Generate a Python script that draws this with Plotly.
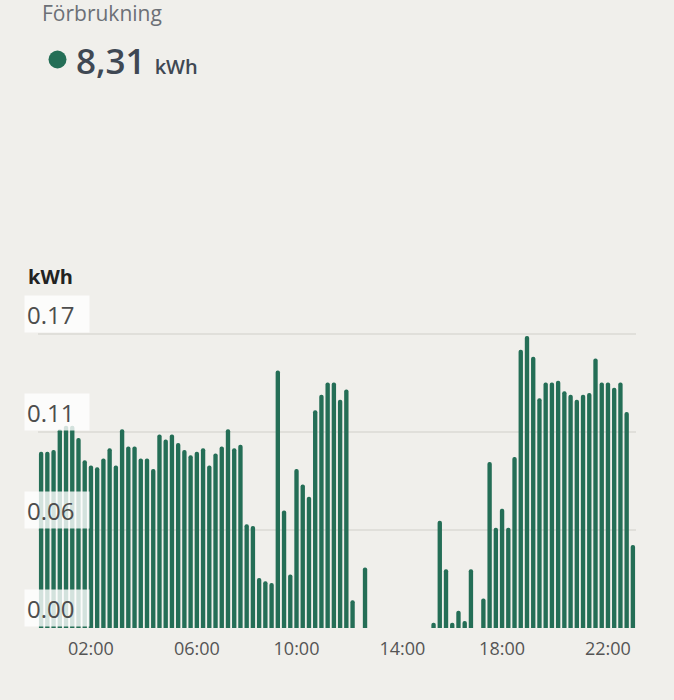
import numpy as np
import plotly.graph_objects as go

# förbrukning per kvart, kWh (00:00 - 23:45)
kwh = [
    0.102, 0.102, 0.103, 0.115, 0.117, 0.117, 0.110, 0.097,   # 00:00
    0.094, 0.093, 0.098, 0.104, 0.094, 0.115, 0.105, 0.105,   # 02:00
    0.098, 0.098, 0.092, 0.112, 0.109, 0.112, 0.107, 0.103,   # 04:00
    0.100, 0.102, 0.104, 0.094, 0.101, 0.105, 0.115, 0.104,   # 06:00
    0.106, 0.060, 0.059, 0.029, 0.027, 0.026, 0.149, 0.068,   # 08:00
    0.031, 0.092, 0.083, 0.076, 0.126, 0.135, 0.142, 0.142,   # 10:00
    0.132, 0.138, 0.016, 0.000, 0.035, 0.000, 0.000, 0.000,   # 12:00
    0.000, 0.000, 0.000, 0.000, 0.000, 0.000, 0.000, 0.003,   # 14:00
    0.062, 0.034, 0.003, 0.010, 0.004, 0.034, 0.000, 0.017,   # 16:00
    0.096, 0.058, 0.069, 0.058, 0.099, 0.161, 0.169, 0.157,   # 18:00
    0.133, 0.142, 0.142, 0.143, 0.137, 0.135, 0.132, 0.135,   # 20:00
    0.136, 0.156, 0.142, 0.142, 0.139, 0.142, 0.125, 0.048,   # 22:00
]
total = "8,31"
unit = "kWh"
title = "Förbrukning"

# x-etiketter (placerade som i bilden)
tick_pos = [2.0, 6.25, 10.25, 14.5, 18.5, 22.75]
tick_text = ["02:00", "06:00", "10:00", "14:00", "18:00", "22:00"]
y_ticks = [0, 0.17 / 3, 0.34 / 3, 0.17]

hours = np.arange(len(kwh)) * 0.25

GREEN = "#246e56"
BG = "#f0efeb"
W, H = 674, 700
L, R, T, B = 38, 38, 329, 72
pw, ph = W - L - R, H - T - B


def px(x):
    return (x - L) / pw


def py(y):
    return (H - B - y) / ph


fig = go.Figure(go.Bar(
    x=hours, y=kwh,
    marker=dict(color=GREEN, cornerradius="50%", line_width=0),
    hoverinfo="skip",
))

annots = []
for v in y_ticks:
    annots.append(dict(
        x=px(24), xref="paper", xanchor="left",
        y=v, yref="y", yanchor="bottom", yshift=1,
        text=f"{v:.2f}", showarrow=False, align="left",
        width=60, height=32, borderpad=2,
        bgcolor="rgba(255,255,255,0.8)",
        font=dict(size=24, color="#4d4d4d"),
    ))

annots += [
    dict(x=px(40), y=py(13), xref="paper", yref="paper", xanchor="left", yanchor="middle",
         text=title, showarrow=False, font=dict(size=21, color="#6c7076")),
    dict(x=px(74), y=py(60), xref="paper", yref="paper", xanchor="left", yanchor="middle",
         text=f"{total} <span style='font-size:20px'>{unit}</span>", showarrow=False,
         font=dict(size=35, color="#3f4853", weight=600)),
    dict(x=px(26), y=py(276), xref="paper", yref="paper", xanchor="left", yanchor="middle",
         text="<b>kWh</b>", showarrow=False, font=dict(size=20, color="#222222")),
]

fig.add_shape(type="circle", xref="paper", yref="paper",
              xsizemode="pixel", ysizemode="pixel",
              xanchor=px(57.5), yanchor=py(59.5),
              x0=-9, x1=9, y0=-9, y1=9,
              fillcolor=GREEN, line_width=0)

fig.update_layout(
    width=W, height=H,
    margin=dict(l=L, r=R, t=T, b=B),
    paper_bgcolor=BG, plot_bgcolor=BG,
    font=dict(family="Open Sans"),
    bargap=0.3,
    showlegend=False,
    annotations=annots,
    xaxis=dict(range=[-0.125, 23.875], tickvals=tick_pos, ticktext=tick_text,
               showgrid=False, zeroline=False, showline=False, ticks="",
               tickfont=dict(size=18, color="#555555"), ticklabelstandoff=8,
               fixedrange=True),
    yaxis=dict(range=[0, 0.173], tickvals=y_ticks, showticklabels=False,
               showgrid=True, gridcolor="#e0dfda", gridwidth=1.5,
               zeroline=False, showline=False, fixedrange=True),
)

fig.write_html("out.html", config=dict(displayModeBar=False),
               post_script="document.body.style.margin='0';document.body.style.overflow='hidden';")
